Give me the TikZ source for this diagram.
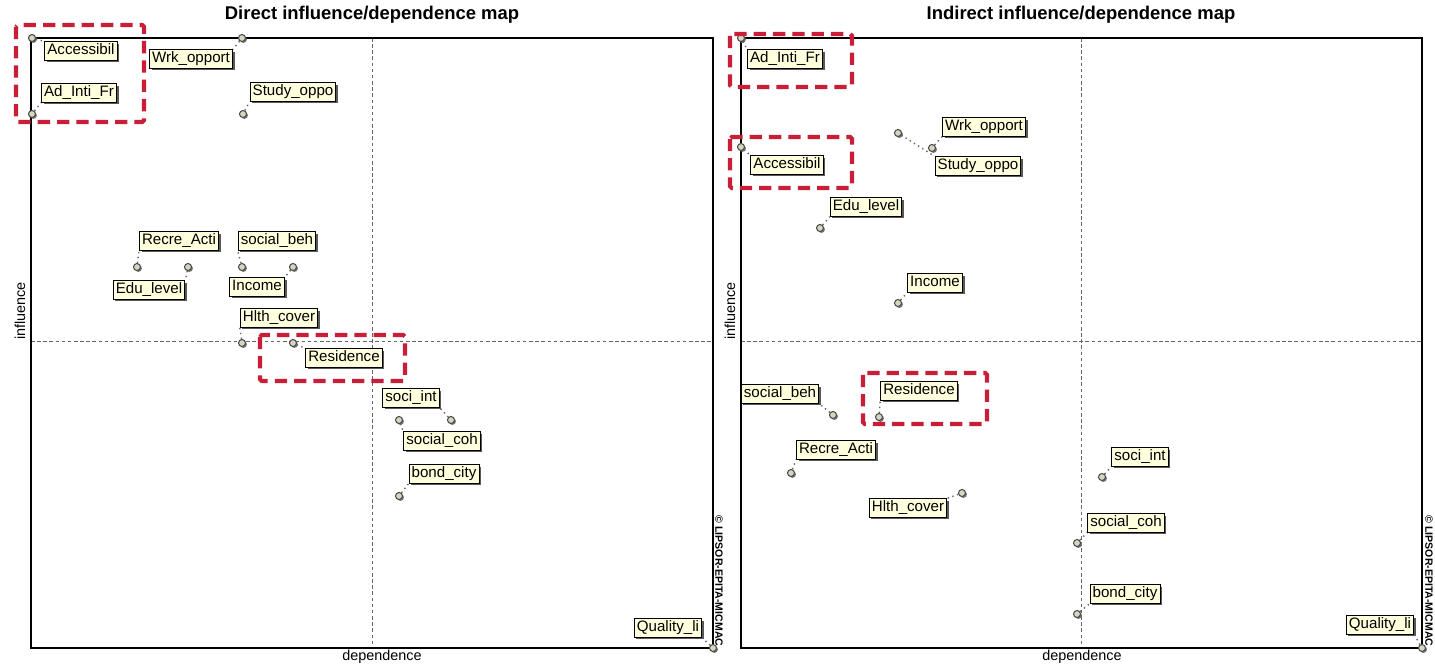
\documentclass[tikz,border=0pt]{standalone}
\usepackage{fontspec}
\setmainfont{Liberation Sans}
\usepackage{tikz}
\usetikzlibrary{shadows,positioning}
\definecolor{tagfill}{RGB}{255, 255, 221}
\definecolor{dotfill}{RGB}{214, 214, 190}
\definecolor{hired}{RGB}{200, 30, 55}

\begin{document}
\begin{tikzpicture}[x=0.02cm, y=-0.02cm,
  tag/.style={draw=black, fill=tagfill, rectangle, font=\fontsize{8.6}{10}\selectfont, inner xsep=1.5pt, inner ysep=1.2pt, text height=6.3pt, text depth=1.8pt, line width=0.55pt, drop shadow={shadow xshift=1.2pt, shadow yshift=-1.2pt, fill=black!65, opacity=1}},
  dot/.style={circle, draw=black!70, fill=dotfill, inner sep=0pt, minimum size=4pt, line width=0.6pt, drop shadow={shadow xshift=0.8pt, shadow yshift=-0.8pt, fill=black!55, opacity=1}},
  leader/.style={draw=black!60, dotted, line width=0.8pt},
  frame/.style={draw=black, line width=0.85pt},
  midline/.style={draw=black!60, line width=0.4pt, dash pattern=on 2pt off 1.5pt},
  hibox/.style={draw=hired, line width=2.3pt, dash pattern=on 7pt off 4pt, rounded corners=1pt},
  title/.style={font=\fontsize{10.5}{12}\selectfont\bfseries},
  axis/.style={font=\fontsize{8.2}{10}\selectfont},
  copy/.style={font=\fontsize{6}{7}\selectfont\bfseries, rotate=-90}
]
\useasboundingbox (0,0) rectangle (1435,664);

% direct map
\node[title] (dTitle) at (372,15) {Direct influence/dependence map};
\draw[midline] (372,38) -- (372,648);
\draw[midline] (31,341) -- (713,341);
\draw[frame] (31,38) rectangle (713,648);
\node[axis, rotate=90] (dInfl) at (20,311) {influence};
\node[axis] (dDep) at (382,657) {dependence};
\node[copy] (dCopy) at (719,581) {© LIPSOR-EPITA-MICMAC};

\node[dot] (dAcc) at (32,38) {};
\node[dot] (dAdi) at (32,114) {};
\node[dot] (dWrk) at (242,38) {};
\node[dot] (dStu) at (243,114) {};
\node[dot] (dRec) at (137,267) {};
\node[dot] (dEdu) at (188,267) {};
\node[dot] (dBeh) at (242,267) {};
\node[dot] (dInc) at (293,267) {};
\node[dot] (dHlt) at (242,343) {};
\node[dot] (dRes) at (293,343) {};
\node[dot] (dCoh) at (399,420) {};
\node[dot] (dInt) at (451,420) {};
\node[dot] (dBnd) at (399,496) {};
\node[dot] (dQol) at (713,648) {};

\node[tag] (dAccT) at (81,51) {Accessibil};
\node[tag] (dAdiT) at (79,93) {Ad\_Inti\_Fr};
\node[tag] (dWrkT) at (191,59) {Wrk\_opport};
\node[tag] (dStuT) at (293,92) {Study\_oppo};
\node[tag] (dRecT) at (179,241) {Recre\_Acti};
\node[tag] (dEduT) at (149,290) {Edu\_level};
\node[tag] (dBehT) at (277,241) {social\_beh};
\node[tag] (dIncT) at (257,287) {Income};
\node[tag] (dHltT) at (279,318) {Hlth\_cover};
\node[tag] (dResT) at (344,358) {Residence};
\node[tag] (dIntT) at (411,398) {soci\_int};
\node[tag] (dCohT) at (442,441) {social\_coh};
\node[tag] (dBndT) at (444,474) {bond\_city};
\node[tag] (dQolT) at (668,628) {Quality\_li};

\draw[leader] (dAcc) -- (dAccT.north west);
\draw[leader] (dAdi) -- (dAdiT.south west);
\draw[leader] (dWrk) -- (dWrkT.north east);
\draw[leader] (dStu) -- (dStuT.south west);
\draw[leader] (dRec) -- (dRecT.south west);
\draw[leader] (dEdu) -- (dEduT.north east);
\draw[leader] (dBeh) -- (dBehT.south west);
\draw[leader] (dInc) -- (dIncT.north east);
\draw[leader] (dHlt) -- (dHltT.south west);
\draw[leader] (dRes) -- (dResT.north west);
\draw[leader] (dInt) -- (dIntT.south east);
\draw[leader] (dCoh) -- (dCohT.north west);
\draw[leader] (dBnd) -- (dBndT.south west);
\draw[leader] (dQol) -- (dQolT.south east);

\draw[hibox] (16,25) rectangle (144,122);
\draw[hibox] (260,335) rectangle (405,381);

% indirect map
\node[title] (iTitle) at (1081,15) {Indirect influence/dependence map};
\draw[midline] (1081,38) -- (1081,648);
\draw[midline] (741,341) -- (1422,341);
\draw[frame] (741,38) rectangle (1422,648);
\node[axis, rotate=90] (iInfl) at (730,311) {influence};
\node[axis] (iDep) at (1082,657) {dependence};
\node[copy] (iCopy) at (1429,581) {© LIPSOR-EPITA-MICMAC};

\node[dot] (iAdi) at (741,38) {};
\node[dot] (iAcc) at (741,147) {};
\node[dot] (iStu) at (898,133) {};
\node[dot] (iWrk) at (932,148) {};
\node[dot] (iEdu) at (820,228) {};
\node[dot] (iInc) at (898,303) {};
\node[dot] (iBeh) at (833,415) {};
\node[dot] (iRes) at (879,417) {};
\node[dot] (iRec) at (791,473) {};
\node[dot] (iHlt) at (962,493) {};
\node[dot] (iInt) at (1102,477) {};
\node[dot] (iCoh) at (1077,543) {};
\node[dot] (iBnd) at (1077,614) {};
\node[dot] (iQol) at (1422,648) {};

\node[tag] (iAdiT) at (785,59) {Ad\_Inti\_Fr};
\node[tag] (iAccT) at (787,165) {Accessibil};
\node[tag] (iWrkT) at (984,127) {Wrk\_opport};
\node[tag] (iStuT) at (978,166) {Study\_oppo};
\node[tag] (iEduT) at (866,207) {Edu\_level};
\node[tag] (iIncT) at (935,283) {Income};
\node[tag] (iBehT) at (780,394) {social\_beh};
\node[tag] (iResT) at (919,391) {Residence};
\node[tag] (iRecT) at (836,450) {Recre\_Acti};
\node[tag] (iHltT) at (908,508) {Hlth\_cover};
\node[tag] (iIntT) at (1140,457) {soci\_int};
\node[tag] (iCohT) at (1126,523) {social\_coh};
\node[tag] (iBndT) at (1125,594) {bond\_city};
\node[tag] (iQolT) at (1380,625) {Quality\_li};

\draw[leader] (iAdi) -- (iAdiT.north west);
\draw[leader] (iAcc) -- (iAccT.north west);
\draw[leader] (iStu) -- (iStuT.north west);
\draw[leader] (iWrk) -- (iWrkT.south west);
\draw[leader] (iEdu) -- (iEduT.south west);
\draw[leader] (iInc) -- (iIncT.south west);
\draw[leader] (iBeh) -- (iBehT.south east);
\draw[leader] (iRes) -- (iResT.south west);
\draw[leader] (iRec) -- (iRecT.south west);
\draw[leader] (iHlt) -- (iHltT.north east);
\draw[leader] (iInt) -- (iIntT.south west);
\draw[leader] (iCoh) -- (iCohT.south west);
\draw[leader] (iBnd) -- (iBndT.south west);
\draw[leader] (iQol) -- (iQolT.south east);

\draw[hibox] (730,34) rectangle (852,87);
\draw[hibox] (730,137) rectangle (852,188);
\draw[hibox] (863,373) rectangle (987,424);

\end{tikzpicture}
\end{document}
